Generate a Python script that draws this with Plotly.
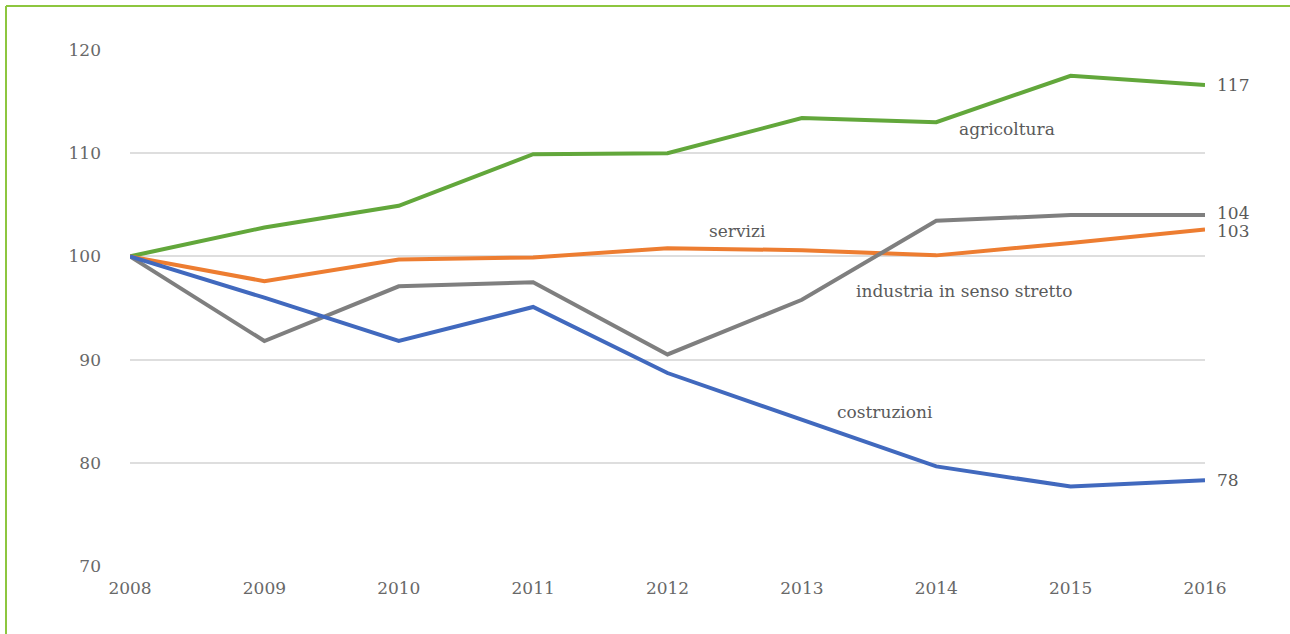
import plotly.graph_objects as go

years = [2008, 2009, 2010, 2011, 2012, 2013, 2014, 2015, 2016]
agricoltura = [100, 102.8, 104.9, 109.9, 110.0, 113.4, 113.0, 117.5, 116.6]
servizi = [100, 97.6, 99.7, 99.9, 100.8, 100.6, 100.1, 101.3, 102.6]
industria = [100, 91.8, 97.1, 97.5, 90.5, 95.8, 103.45, 104.0, 104.0]
costruzioni = [100, 96.0, 91.8, 95.1, 88.7, 84.2, 79.65, 77.7, 78.3]

series_names = ["agricoltura", "servizi", "industria in senso stretto", "costruzioni"]
colors = ["#62A73B", "#ED7D31", "#7F7F7F", "#4169BE"]
series = [agricoltura, servizi, industria, costruzioni]

label_pos = {
    "agricoltura": (2014.53, 112.3),
    "servizi": (2012.52, 102.5),
    "industria in senso stretto": (2014.21, 96.6),
    "costruzioni": (2013.62, 84.9),
}

font_family = "DejaVu Serif"
text_color = "#5a5a5a"
tick_color = "#686868"

fig = go.Figure()
for name, vals, col in zip(series_names, series, colors):
    fig.add_trace(go.Scatter(x=years, y=vals, mode="lines", name=name,
                             line=dict(color=col, width=4), showlegend=False))

annotations = []
for name in series_names:
    x, y = label_pos[name]
    annotations.append(dict(x=x, y=y, xref="x", yref="y", text=name, showarrow=False,
                            font=dict(family=font_family, size=17, color=text_color)))

ends = [(agricoltura[-1], "117", 0), (industria[-1], "104", 2), (servizi[-1], "103", -1), (costruzioni[-1], "78", 0)]
for yv, txt, ys in ends:
    annotations.append(dict(x=years[-1], y=yv, xref="x", yref="y", text=txt, showarrow=False,
                            xanchor="left", xshift=10, yshift=ys,
                            font=dict(family=font_family, size=17, color=text_color)))

L, R, T, B = 130, 85, 50, 68
PW, PH = 1290 - L - R, 634 - T - B

fig.update_layout(
    width=1290, height=634,
    margin=dict(l=L, r=R, t=T, b=B),
    paper_bgcolor="white", plot_bgcolor="white",
    annotations=annotations,
    shapes=[
        dict(type="line", xref="paper", yref="paper", x0=-124 / PW, x1=(1290 - L) / PW,
             y0=1 + 44 / PH, y1=1 + 44 / PH, line=dict(color="#8DC63F", width=2)),
        dict(type="line", xref="paper", yref="paper", x0=-124 / PW, x1=-124 / PW,
             y0=-B / PH, y1=1 + 44 / PH, line=dict(color="#8DC63F", width=2)),
    ],
    xaxis=dict(range=[2008, 2016], tickmode="array", tickvals=years,
               ticktext=[str(y) for y in years], showgrid=False, zeroline=False,
               showline=False, ticks="", ticklabelstandoff=10,
               tickfont=dict(family=font_family, size=17, color=tick_color)),
    yaxis=dict(range=[70, 120], tickvals=[70, 80, 90, 100, 110, 120], showgrid=True,
               gridcolor="#DEDEDE", gridwidth=1.5, zeroline=False, showline=False,
               ticks="", ticklabelstandoff=28,
               tickfont=dict(family=font_family, size=17, color=tick_color)),
)

fig.write_html("out.html", config={"displayModeBar": False},
               post_script="document.body.style.margin='0';document.body.style.padding='0';")
